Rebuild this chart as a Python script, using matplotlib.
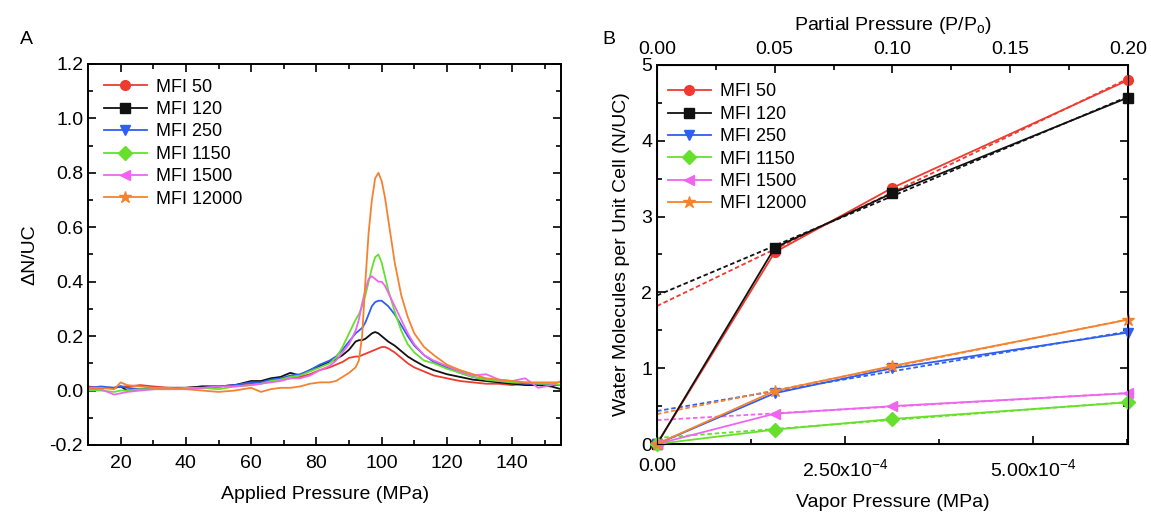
import numpy as np
import matplotlib.pyplot as plt
from matplotlib.lines import Line2D
from matplotlib.ticker import MultipleLocator, FuncFormatter

plt.rcParams['font.family'] = ['Liberation Sans', 'DejaVu Sans']
plt.rcParams['mathtext.fontset'] = 'custom'
plt.rcParams['mathtext.rm'] = 'Liberation Sans'
plt.rcParams['mathtext.it'] = 'Liberation Sans'

labels = ['MFI 50', 'MFI 120', 'MFI 250', 'MFI 1150', 'MFI 1500', 'MFI 12000']
colors = ['#ef3a30', '#111111', '#2f5ff0', '#66e02c', '#ee66ee', '#f5822f']
markers = ['o', 's', 'v', 'D', '<', '*']

# panel A: delta N/UC vs applied pressure
applied = [10, 14, 18, 20, 22, 26, 30, 35, 40, 45, 50, 55, 60, 63, 66, 69, 72, 75, 78, 81,
           84, 86, 88, 90, 92, 93, 94, 95, 96, 97, 98, 99, 100, 101, 102, 104, 106, 108, 110,
           113, 116, 120, 124, 128, 132, 136, 140, 144, 148, 152, 155]
dn_50 = [0.015, 0.01, 0.01, 0.015, 0.015, 0.02, 0.015, 0.01, 0.01, 0.015, 0.015, 0.02, 0.025,
         0.03, 0.035, 0.04, 0.045, 0.05, 0.06, 0.075, 0.085, 0.095, 0.105, 0.12, 0.125, 0.125,
         0.13, 0.135, 0.14, 0.145, 0.15, 0.155, 0.16, 0.16, 0.155, 0.14, 0.12, 0.10, 0.085,
         0.07, 0.055, 0.045, 0.035, 0.03, 0.025, 0.025, 0.02, 0.025, 0.02, 0.02, 0.02]
dn_120 = [0.01, 0.01, 0.01, 0.015, 0.0, 0.005, 0.005, 0.01, 0.01, 0.015, 0.015, 0.02, 0.035,
          0.035, 0.045, 0.05, 0.065, 0.055, 0.075, 0.09, 0.105, 0.115, 0.13, 0.15, 0.18, 0.185,
          0.185, 0.19, 0.2, 0.21, 0.215, 0.21, 0.2, 0.19, 0.18, 0.165, 0.145, 0.125, 0.11,
          0.09, 0.075, 0.06, 0.05, 0.04, 0.035, 0.03, 0.025, 0.02, 0.02, 0.015, 0.005]
dn_250 = [0.01, 0.015, 0.01, 0.015, 0.01, 0.005, 0.01, 0.01, 0.01, 0.01, 0.015, 0.02, 0.03,
          0.03, 0.04, 0.045, 0.055, 0.06, 0.075, 0.095, 0.11, 0.125, 0.15, 0.18, 0.21, 0.22,
          0.23, 0.25, 0.28, 0.31, 0.325, 0.33, 0.33, 0.32, 0.31, 0.28, 0.24, 0.2, 0.165,
          0.13, 0.105, 0.085, 0.065, 0.05, 0.04, 0.035, 0.03, 0.025, 0.025, 0.02, 0.02]
dn_1150 = [0.0, 0.0, -0.005, 0.0, 0.0, 0.005, 0.005, 0.005, 0.01, 0.01, 0.005, 0.015, 0.02,
           0.025, 0.035, 0.04, 0.05, 0.055, 0.07, 0.085, 0.1, 0.12, 0.16, 0.21, 0.26, 0.28,
           0.31, 0.35, 0.4, 0.45, 0.49, 0.5, 0.47, 0.42, 0.37, 0.29, 0.22, 0.17, 0.14,
           0.11, 0.1, 0.08, 0.065, 0.05, 0.04, 0.035, 0.03, 0.03, 0.025, 0.025, 0.02]
dn_1500 = [0.005, 0.005, -0.015, -0.01, -0.005, 0.0, 0.005, 0.005, 0.005, 0.01, 0.015, 0.015,
           0.02, 0.025, 0.03, 0.035, 0.045, 0.045, 0.055, 0.075, 0.09, 0.11, 0.14, 0.17, 0.22,
           0.26, 0.32, 0.37, 0.41, 0.42, 0.41, 0.4, 0.4, 0.385, 0.36, 0.31, 0.26, 0.21, 0.17,
           0.13, 0.11, 0.09, 0.07, 0.055, 0.06, 0.04, 0.035, 0.045, 0.01, 0.02, 0.035]
dn_12000 = [0.01, 0.01, 0.005, 0.03, 0.02, 0.015, 0.01, 0.01, 0.005, 0.0, -0.005, 0.0, 0.01,
            -0.005, 0.005, 0.01, 0.01, 0.015, 0.025, 0.03, 0.03, 0.035, 0.05, 0.065, 0.085,
            0.11, 0.2, 0.4, 0.58, 0.7, 0.78, 0.8, 0.77, 0.71, 0.63, 0.47, 0.35, 0.27, 0.21,
            0.16, 0.13, 0.095, 0.075, 0.06, 0.045, 0.04, 0.035, 0.03, 0.03, 0.03, 0.03]
dn_all = [dn_50, dn_120, dn_250, dn_1150, dn_1500, dn_12000]

# panel B: uptake vs vapor pressure
partial = [0.0, 0.05, 0.10, 0.20]
vapor = [0.0, 1.565e-4, 3.13e-4, 6.26e-4]
n_50 = [0.0, 2.53, 3.38, 4.80]
n_120 = [0.0, 2.59, 3.31, 4.57]
n_250 = [0.0, 0.67, 1.00, 1.47]
n_1150 = [0.0, 0.19, 0.33, 0.55]
n_1500 = [0.0, 0.40, 0.50, 0.67]
n_12000 = [0.0, 0.70, 1.03, 1.64]
n_all = [n_50, n_120, n_250, n_1150, n_1500, n_12000]

fig = plt.figure(figsize=(11.51, 5.13), dpi=100)
axA = fig.add_axes([0.0765, 0.1326, 0.411, 0.7427])
axB = fig.add_axes([0.5708, 0.1345, 0.4092, 0.7388])


def style_axis(ax):
    for s in ax.spines.values():
        s.set_linewidth(1.4)
    ax.tick_params(which='both', direction='in', top=True, right=True, labelsize=14, width=1.2)
    ax.tick_params(which='major', length=6)
    ax.tick_params(which='minor', length=3.5)


for y, c in zip(dn_all, colors):
    axA.plot(applied, y, color=c, lw=1.3)
axA.set_xlim(10, 155)
axA.set_ylim(-0.2, 1.2)
axA.xaxis.set_major_locator(MultipleLocator(20))
axA.xaxis.set_minor_locator(MultipleLocator(10))
axA.yaxis.set_major_locator(MultipleLocator(0.2))
axA.yaxis.set_minor_locator(MultipleLocator(0.1))
axA.yaxis.set_major_formatter(FuncFormatter(lambda v, p: '%.1f' % v))
style_axis(axA)
axA.tick_params(axis='x', pad=7)
axA.set_xlabel('Applied Pressure (MPa)', fontsize=14, labelpad=10)
axA.set_ylabel('ΔN/UC', fontsize=14, labelpad=8)

handles = [Line2D([], [], color=c, marker=m, lw=1.3, markersize=9 if m == '*' else 7)
           for c, m in zip(colors, markers)]
axA.legend(handles, labels, loc='upper left', frameon=False, fontsize=13,
           handlelength=2.4, handletextpad=0.5, labelspacing=0.3,
           borderaxespad=0.2, bbox_to_anchor=(0.01, 0.99))

xfit = np.array([0.0, 6.26e-4])
for y, c, m in zip(n_all, colors, markers):
    axB.plot(vapor, y, color=c, marker=m, lw=1.3, markersize=9 if m == '*' else 7, clip_on=False, zorder=3)
    k, b = np.polyfit(vapor[1:], y[1:], 1)
    axB.plot(xfit, k * xfit + b, color=c, lw=1.3, ls=(0, (2.5, 1.5)), zorder=2)
axB.set_xlim(0, 6.26e-4)
axB.set_ylim(0, 5)
axB.xaxis.set_major_locator(MultipleLocator(2.5e-4))
axB.xaxis.set_minor_locator(MultipleLocator(1.25e-4))
axB.yaxis.set_major_locator(MultipleLocator(1))
axB.yaxis.set_minor_locator(MultipleLocator(0.5))


def sci_fmt(v, p):
    if abs(v) < 1e-12:
        return '0.00'
    return r'%.2fx10$^{-4}$' % (v / 1e-4)


axB.xaxis.set_major_formatter(FuncFormatter(sci_fmt))
style_axis(axB)
axB.tick_params(top=False)
axB.tick_params(axis='x', pad=10)
axB.set_xlabel('Vapor Pressure (MPa)', fontsize=14, labelpad=10)
axB.set_ylabel('Water Molecules per Unit Cell (N/UC)', fontsize=14, labelpad=8)
axB.legend(handles, labels, loc='upper left', frameon=False, fontsize=13,
           handlelength=2.4, handletextpad=0.5, labelspacing=0.3,
           borderaxespad=0.2, bbox_to_anchor=(0.0, 0.98))

axT = axB.twiny()
axT.set_xlim(0, 0.2)
axT.xaxis.set_major_locator(MultipleLocator(0.05))
axT.xaxis.set_minor_locator(MultipleLocator(0.025))
axT.xaxis.set_major_formatter(FuncFormatter(lambda v, p: '%.2f' % v))
axT.tick_params(which='both', direction='in', labelsize=14, width=1.2, pad=5)
axT.tick_params(which='major', length=6)
axT.tick_params(which='minor', length=3.5)
axT.set_xlabel('Partial Pressure (P/P$_o$)', fontsize=14, labelpad=8)

fig.text(0.017, 0.915, 'A', fontsize=14)
fig.text(0.523, 0.915, 'B', fontsize=14)

fig.savefig('out.png', dpi=100)
